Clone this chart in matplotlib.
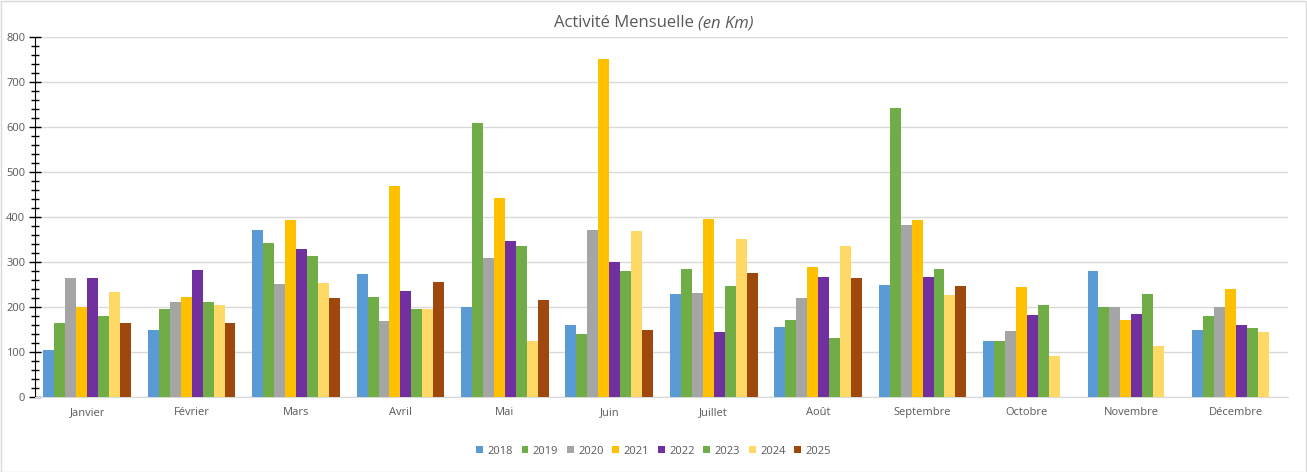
import matplotlib
matplotlib.use("Agg")
import matplotlib.pyplot as plt
import numpy as np
from matplotlib.ticker import MultipleLocator
from matplotlib.patches import Rectangle

months = ["Janvier", "Février", "Mars", "Avril", "Mai", "Juin", "Juillet",
          "Août", "Septembre", "Octobre", "Novembre", "Décembre"]
years = ["2018", "2019", "2020", "2021", "2022", "2023", "2024", "2025"]

v2018 = [105, 150, 372, 274, 199, 161, 230, 156, 250, 125, 281, 150]
v2019 = [164, 196, 343, 223, 610, 141, 285, 172, 643, 125, 199, 179]
v2020 = [264, 211, 251, 170, 310, 372, 232, 221, 383, 147, 199, 201]
v2021 = [200, 223, 394, 470, 443, 752, 396, 290, 394, 245, 172, 241]
v2022 = [264, 283, 330, 236, 347, 299, 145, 267, 267, 183, 185, 161]
v2023 = [181, 211, 314, 196, 336, 281, 247, 132, 285, 205, 230, 154]
v2024 = [233, 205, 254, 196, 125, 370, 352, 336, 227, 92, 114, 145]
v2025 = [164, 164, 221, 256, 216, 150, 276, 265, 247, np.nan, np.nan, np.nan]

series = [v2018, v2019, v2020, v2021, v2022, v2023, v2024, v2025]
colors = ["#5B9BD5", "#70AD47", "#A5A5A5", "#FFC000", "#7030A0", "#70AD47",
          "#FFD966", "#9E480E"]

plt.rcParams['font.family'] = ['Open Sans', 'DejaVu Sans']
W, H = 1307, 472
fig = plt.figure(figsize=(W / 100, H / 100), dpi=100)
fig.patches.append(Rectangle((0.5 / W, 0.5 / H), 1 - 1.5 / W, 1 - 1.5 / H,
                             transform=fig.transFigure, fill=False,
                             edgecolor="#D9D9D9", linewidth=1))

ax = fig.add_axes([35 / W, 1 - 397 / H, (1288 - 35) / W, (397 - 37) / H])

x = np.arange(len(months))
bw = 0.105
n = len(series)
for i, (vals, c, yr) in enumerate(zip(series, colors, years)):
    ax.bar(x + (i - (n - 1) / 2) * bw, vals, width=bw, color=c, label=yr,
           zorder=3)

ax.set_xlim(-0.5, len(months) - 0.5)
ax.set_ylim(0, 800)
ax.yaxis.set_major_locator(MultipleLocator(100))
ax.yaxis.set_minor_locator(MultipleLocator(20))
ax.grid(axis="y", which="major", color="#D9D9D9", linewidth=1, zorder=0)
ax.set_xticks(x)
ax.set_xticklabels(months)
ax.tick_params(axis="x", length=0, pad=7, labelsize=8, colors="#595959")
ax.tick_params(axis="y", which="major", direction="inout", length=8,
               width=1, color="black", labelsize=8, labelcolor="#595959",
               pad=3)
ax.tick_params(axis="y", which="minor", direction="inout", length=6,
               width=1, color="black")
for s in ["top", "right"]:
    ax.spines[s].set_visible(False)
ax.spines["left"].set_color("black")
ax.spines["bottom"].set_color("#D9D9D9")

t1 = fig.text(0, 0, "Activité Mensuelle ", fontsize=12, color="#595959")
fig.canvas.draw()
r = fig.canvas.get_renderer()
bb1 = t1.get_window_extent(r)
t2 = fig.text(0, 0, "(en Km)", fontsize=12, color="#595959", style="italic")
bb2 = t2.get_window_extent(r)
total = bb1.width + bb2.width
x0 = (W / 2 - total / 2) / W
ytxt = 1 - 27 / H
t1.set_position((x0, ytxt))
t2.set_position((x0 + bb1.width / W, ytxt))

leg = fig.legend(loc="center", bbox_to_anchor=(0.5, 1 - 451 / H), ncol=8,
                 frameon=False, fontsize=8, handlelength=0.6,
                 handleheight=0.6, handletextpad=0.4, columnspacing=0.8,
                 labelcolor="#595959")

fig.savefig("out.png", dpi=100)
